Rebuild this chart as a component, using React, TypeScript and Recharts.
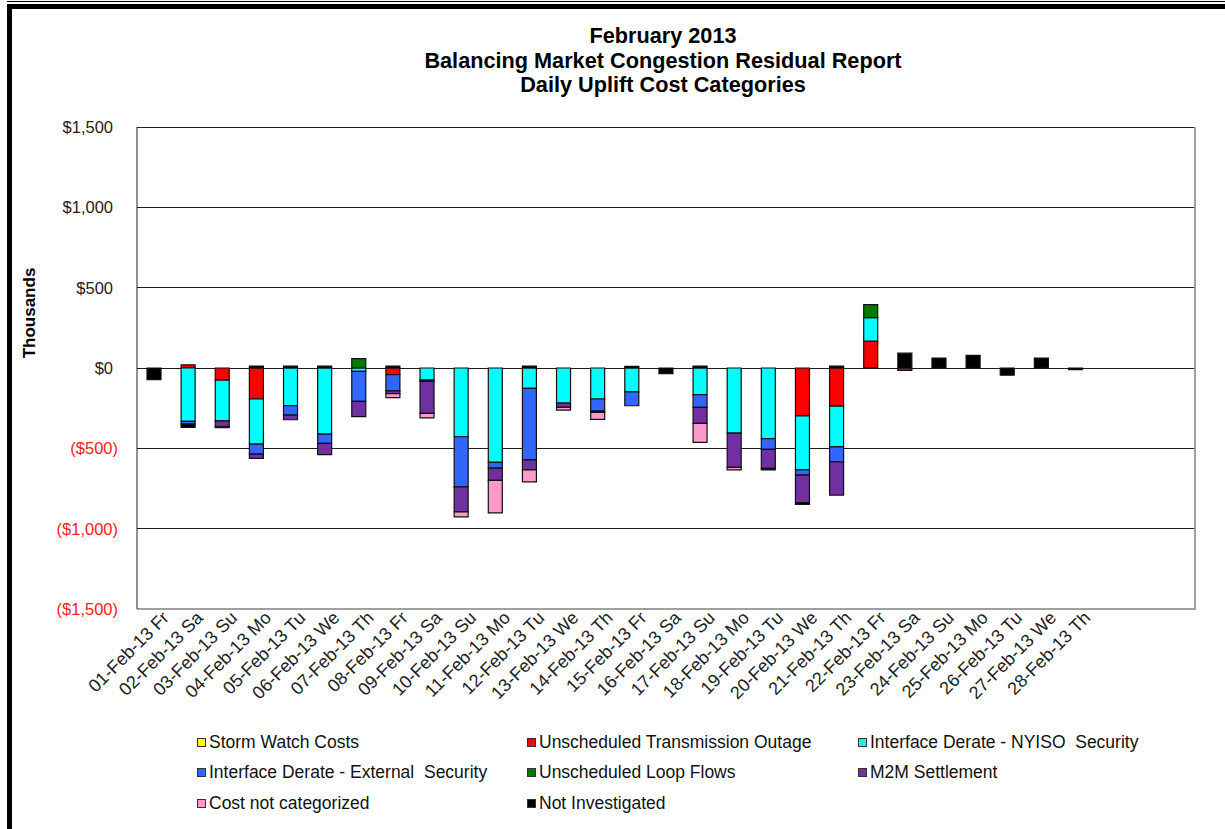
import React from 'react';
import { BarChart, Bar, XAxis, YAxis, CartesianGrid } from 'recharts';

const dayLabels = [
  '01-Feb-13 Fr', '02-Feb-13 Sa', '03-Feb-13 Su', '04-Feb-13 Mo', '05-Feb-13 Tu', '06-Feb-13 We', '07-Feb-13 Th',
  '08-Feb-13 Fr', '09-Feb-13 Sa', '10-Feb-13 Su', '11-Feb-13 Mo', '12-Feb-13 Tu', '13-Feb-13 We', '14-Feb-13 Th',
  '15-Feb-13 Fr', '16-Feb-13 Sa', '17-Feb-13 Su', '18-Feb-13 Mo', '19-Feb-13 Tu', '20-Feb-13 We', '21-Feb-13 Th',
  '22-Feb-13 Fr', '23-Feb-13 Sa', '24-Feb-13 Su', '25-Feb-13 Mo', '26-Feb-13 Tu', '27-Feb-13 We', '28-Feb-13 Th',
  '', ' ', '  ',
];

// values in thousands of dollars
const stormWatch = [0, 0, 0, 0, 0, 0, 0, 0, 0, 0, 0, 0, 0, 0, 0, 0, 0, 0, 0, 0, 0, 0, 0, 0, 0, 0, 0, 0, 0, 0, 0];
const transOutage = [0, 20, -75, -193, 0, 0, 0, -42, 0, 0, 0, 0, 0, 0, 0, 0, 0, 0, 0, -298, -237, 168, 0, 0, 0, 0, 0, 0, 0, 0, 0];
const nyisoSecurity = [0, -332, -254, -281, -235, -411, -21, 0, -75, -428, -588, -127, -218, -193, -148, 0, -166, -405, -440, -336, -254, 146, 0, 0, 0, 0, 0, 0, 0, 0, 0];
const externalSecurity = [0, -17, 0, -62, -58, -58, -187, -100, -8, -312, -35, -445, 0, -75, -87, 0, -79, 0, -66, -33, -94, 0, 0, 0, 0, 0, 0, 0, 0, 0, 0];
const loopFlows = [0, 0, 0, 0, 0, 0, 58, 0, 0, 0, 0, 0, 0, 0, 0, 0, 0, 0, 0, 0, 0, 80, 0, 0, 0, 0, 0, 0, 0, 0, 0];
const m2mSettlement = [0, 0, -35, -27, -29, -70, -95, -17, -200, -156, -77, -62, -27, -8, 0, 0, -100, -214, -118, -170, -206, 0, -15, 0, 0, 0, 0, 0, 0, 0, 0];
const notCategorized = [0, 0, 0, 0, 0, 0, 0, -25, -27, -31, -202, -75, -17, -44, 0, 0, -118, -15, 0, 0, 0, 0, 0, 0, 0, 0, 0, 0, 0, 0, 0];
const notInvestigated = [-72, -21, -8, 12, 12, 12, 0, 12, 0, 0, 0, 12, 0, 0, 10, -35, 12, 0, -10, -12, 12, 0, 92, 62, 79, -45, 62, -10, 0, 0, 0];

const yTicks = [-1500, -1000, -500, 0, 500, 1000, 1500];

const seriesDefs = [
  { key: 'storm', name: 'Storm Watch Costs', color: '#ffff00', values: stormWatch },
  { key: 'outage', name: 'Unscheduled Transmission Outage', color: '#ff0000', values: transOutage },
  { key: 'nyiso', name: 'Interface Derate - NYISO  Security', color: '#00ffff', values: nyisoSecurity },
  { key: 'external', name: 'Interface Derate - External  Security', color: '#3366ff', values: externalSecurity },
  { key: 'loop', name: 'Unscheduled Loop Flows', color: '#007a00', values: loopFlows },
  { key: 'm2m', name: 'M2M Settlement', color: '#7030a0', values: m2mSettlement },
  { key: 'uncat', name: 'Cost not categorized', color: '#ff99cc', values: notCategorized },
  { key: 'notinv', name: 'Not Investigated', color: '#000000', values: notInvestigated },
];

const legendOrder = [
  ['storm', 'outage', 'nyiso'],
  ['external', 'loop', 'm2m'],
  ['uncat', 'notinv'],
];

const data = dayLabels.map((label, i) => {
  const row: Record<string, any> = { label };
  seriesDefs.forEach((s) => {
    row[s.key] = s.values[i];
  });
  return row;
});

const FONT = '"Liberation Sans", Arial, sans-serif';

const fmtY = (v: number) => {
  const s = '$' + Math.abs(v).toLocaleString('en-US');
  return v < 0 ? '(' + s + ')' : s;
};

const YTick = (props: any) => {
  const { y, payload } = props;
  const v = payload.value;
  const neg = v < 0;
  return (
    <text
      x={neg ? 118 : 113}
      y={y}
      dy={6}
      textAnchor="end"
      fontFamily={FONT}
      fontSize={16.5}
      fill={neg ? '#ff2020' : '#222'}
    >
      {fmtY(v)}
    </text>
  );
};

const XTick = (props: any) => {
  const { x, payload } = props;
  const tx = x + 16;
  const ty = 619;
  return (
    <text
      x={tx}
      y={ty}
      textAnchor="end"
      fontFamily={FONT}
      fontSize={18}
      fill="#222"
      transform={`rotate(-45 ${tx} ${ty})`}
    >
      {payload.value}
    </text>
  );
};

const legendCols = [197, 527, 858];
const legendRows = [742, 772, 803];

export default function App() {
  return (
    <div style={{ position: 'absolute', left: 0, top: 0, width: 1225, height: 829, background: '#fff', overflow: 'hidden', fontFamily: FONT }}>
      {/* frame */}
      <div style={{ position: 'absolute', left: 7, top: 1, width: 1218, height: 1, background: '#000' }} />
      <div style={{ position: 'absolute', left: 7, top: 4, width: 1218, height: 5, background: '#000' }} />
      <div style={{ position: 'absolute', left: 7, top: 4, width: 5, height: 825, background: '#000' }} />

      {/* title */}
      <div style={{ position: 'absolute', left: 0, top: 24, width: 1326, textAlign: 'center', fontWeight: 'bold', fontSize: 21.7, lineHeight: '24.5px', color: '#000' }}>
        <div>February 2013</div>
        <div>Balancing Market Congestion Residual Report</div>
        <div>Daily Uplift Cost Categories</div>
      </div>

      {/* y axis title */}
      <div style={{ position: 'absolute', left: 30, top: 313, width: 0, height: 0 }}>
        <div style={{ position: 'absolute', transform: 'translate(-50%, -50%) rotate(-90deg)', fontWeight: 'bold', fontSize: 17, whiteSpace: 'nowrap', color: '#000' }}>
          Thousands
        </div>
      </div>

      <div style={{ position: 'absolute', left: 0, top: 0 }}>
        <BarChart
          width={1225}
          height={829}
          data={data}
          stackOffset="sign"
          barSize={14}
          margin={{ top: 127, right: 30, bottom: 120, left: 77 }}
        >
          <CartesianGrid vertical={false} stroke="#1e1e1e" strokeWidth={1} shapeRendering="crispEdges" />
          <XAxis
            dataKey="label"
            interval={0}
            height={100}
            tickLine={false}
            axisLine={{ stroke: '#a0a0a0', strokeWidth: 2 }}
            tick={<XTick />}
          />
          <YAxis
            width={60}
            domain={[-1500, 1500]}
            ticks={yTicks}
            interval={0}
            tickLine={false}
            axisLine={{ stroke: '#1e1e1e', strokeWidth: 1 }}
            tick={<YTick />}
          />
          {seriesDefs.map((s) => (
            <Bar
              key={s.key}
              dataKey={s.key}
              name={s.name}
              stackId="a"
              fill={s.color}
              stroke="#111"
              strokeWidth={1.2}
              isAnimationActive={false}
            />
          ))}
        </BarChart>
      </div>

      {/* right plot border */}
      <div style={{ position: 'absolute', left: 1194, top: 127, width: 2, height: 483, background: '#a0a0a0' }} />

      {/* legend */}
      {legendOrder.map((row, ri) =>
        row.map((key, ci) => {
          const s = seriesDefs.find((d) => d.key === key)!;
          return (
            <div
              key={key}
              style={{ position: 'absolute', left: legendCols[ci], top: legendRows[ri] - 11, height: 22, display: 'flex', alignItems: 'center', whiteSpace: 'pre', fontSize: 17.5, color: '#111' }}
            >
              <span style={{ display: 'inline-block', width: 7, height: 7, background: s.color, border: '1px solid #333', marginRight: 3 }} />
              <span>{s.name}</span>
            </div>
          );
        })
      )}
    </div>
  );
}
